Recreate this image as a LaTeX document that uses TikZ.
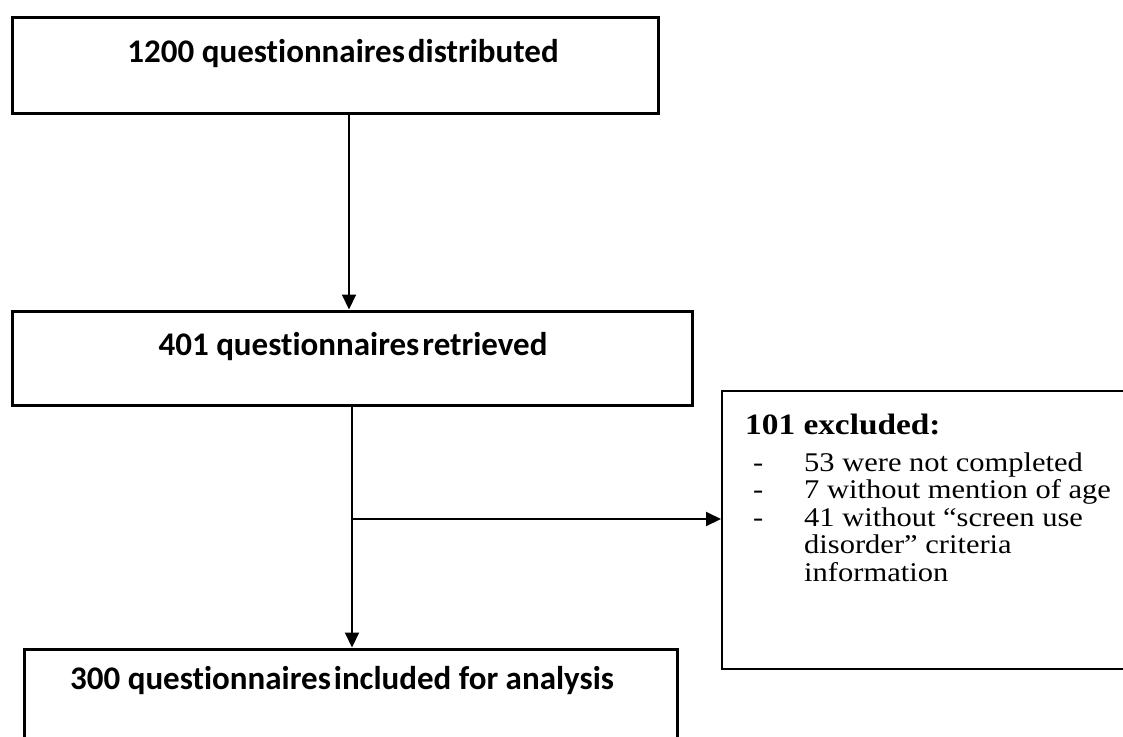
\documentclass[tikz,border=0pt]{standalone}
\usepackage{fontspec}
\usetikzlibrary{arrows.meta}
\newfontfamily\boxfont[Ligatures=CommonOff]{Carlito}
\newfontfamily\exfont[Ligatures=TeX,FakeStretch=1.13]{Liberation Serif}
\begin{document}
\begin{tikzpicture}[x=1pt,y=-1pt,
  box/.style={draw=black, line width=3pt, inner sep=0pt},
  exbox/.style={draw=black, line width=2pt, inner sep=0pt},
  boxtext/.style={font=\boxfont\bfseries\fontsize{33}{40}\selectfont, anchor=base, inner sep=0pt},
  extext/.style={font=\exfont\fontsize{27}{27.5}\selectfont, anchor=base west, inner sep=0pt},
  exhead/.style={font=\exfont\bfseries\fontsize{29.5}{34}\selectfont, anchor=base west, inner sep=0pt},
  arrow/.style={line width=2pt, -{Triangle[length=15pt,width=14pt]}},
]
\useasboundingbox (0,0) rectangle (1123,736);
\fill[white] (0,0) rectangle (1123,736);

% boxes
\node[box, minimum width=646pt, minimum height=96pt] (b1) at (335,65) {};
\node[box, minimum width=680pt, minimum height=94pt] (b2) at (352,358) {};
\node[box, minimum width=653pt, minimum height=112pt] (b3) at (350.5,705) {};
\node[exbox, minimum width=418pt, minimum height=278pt] (ex) at (931,530) {};

% box texts
\node[boxtext] (t1) at (343,62) {1200 questionnaires\hspace{3pt}distributed};
\node[boxtext] (t2) at (353,355) {401 questionnaires\hspace{3pt}retrieved};
\node[boxtext] (t3) at (342,689) {300 questionnaires\hspace{3pt}included for analysis};

% excluded texts
\node[exhead] (eh) at (745,434) {101 excluded:};
\node[extext] (d1) at (753,471) {-};
\node[extext] (d2) at (753,498.5) {-};
\node[extext] (d3) at (753,526) {-};
\node[extext] (l1) at (804,471) {53 were not completed};
\node[extext] (l2) at (804,498.5) {7 without mention of age};
\node[extext] (l3) at (804,526) {41 without “screen use};
\node[extext] (l4) at (804,553.5) {disorder” criteria};
\node[extext] (l5) at (804,581) {information};

% connectors
\coordinate (c1) at (349,0);
\coordinate (c2) at (352,519);
\draw[arrow] (b1.south -| c1) -- (b2.north -| c1);
\draw[arrow] (b2.south -| c2) -- (b3.north -| c2);
\draw[arrow] (c2) -- (c2 -| ex.west);
\end{tikzpicture}
\end{document}
